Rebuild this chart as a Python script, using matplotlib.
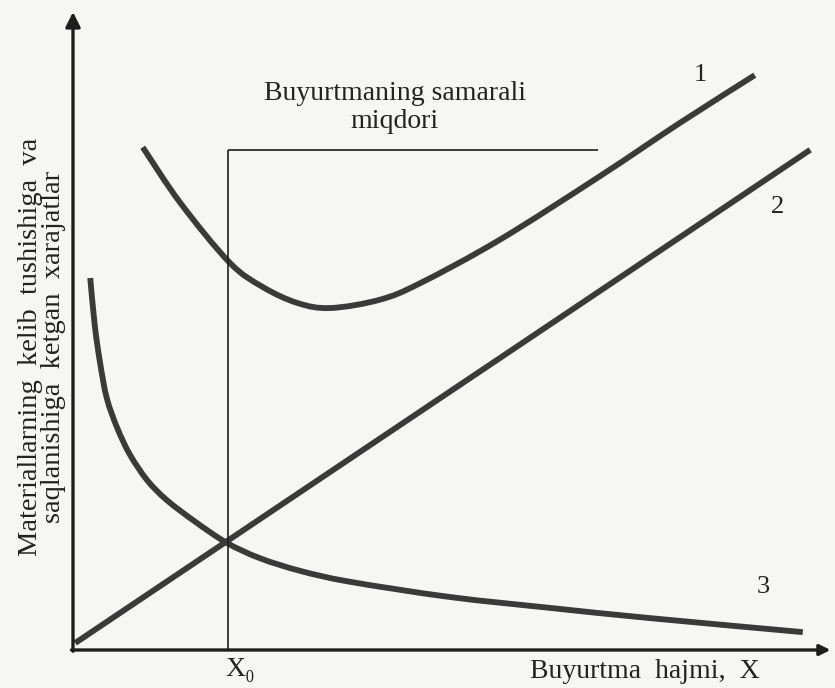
import matplotlib
matplotlib.use("Agg")
import matplotlib.pyplot as plt
from matplotlib.path import Path
from matplotlib.patches import PathPatch
import numpy as np

# ==========================================
# DATA (o'qilgan qiymatlar, shartli birliklar)
# ==========================================

# 1 - umumiy xarajatlar (U-shaklidagi egri)
total_x = [9.3, 14.3, 20.9, 25.3, 29.9, 34.3, 40.9, 46.3, 56.9, 70.3, 80.9, 90.9]
total_y = [78.8, 70.1, 60.7, 56.9, 54.4, 53.6, 54.9, 57.5, 64.3, 74.3, 82.6, 90.1]

# 2 - saqlash xarajatlari (to'g'ri chiziq)
hold_x = [0.3, 98.3]
hold_y = [1.1, 78.4]

# 3 - kelib tushish xarajatlari (giperbola)
order_x = [2.3, 2.9, 3.6, 4.5, 5.9, 7.6, 9.9, 12.5, 16.3, 20.5, 24.9, 30.3, 36.9, 50.3, 63.6, 76.9, 97.3]
order_y = [58.3, 50.9, 45.1, 39.5, 34.8, 30.6, 26.6, 23.5, 20.1, 16.8, 14.4, 12.4, 10.7, 8.3, 6.6, 5.0, 2.8]

# samarali miqdor
x0 = 20.7
box_top = 78.4
box_right = 70.0

curve_labels = ["1", "2", "3"]
label_pos = [(83.6, 90.1), (94.0, 69.4), (92.0, 9.9)]

# ==========================================
# PLOT
# ==========================================

SERIF = ["Liberation Serif", "DejaVu Serif"]
BG = "#f6f6f4"
INK = "#3a3a3a"
AXIS = "#1e1e1e"
TXT = "#222222"


def smooth_path(xs, ys):
    # Catmull-Rom orqali silliq chiziq (faqat chizish uchun)
    p = np.column_stack([xs, ys]).astype(float)
    if len(p) < 3:
        return Path(p)
    verts = [p[0]]
    codes = [Path.MOVETO]
    for i in range(len(p) - 1):
        p0 = p[i - 1] if i > 0 else p[i]
        p1, p2 = p[i], p[i + 1]
        p3 = p[i + 2] if i + 2 < len(p) else p[i + 1]
        c1 = p1 + (p2 - p0) / 6.0
        c2 = p2 - (p3 - p1) / 6.0
        verts += [c1, c2, p2]
        codes += [Path.CURVE4] * 3
    return Path(verts, codes)


fig = plt.figure(figsize=(8.35, 6.88), dpi=100, facecolor=BG)
ax = fig.add_axes([73 / 835, 38 / 688, 750 / 835, 638 / 688])
ax.set_facecolor(BG)
ax.set_xlim(0, 100)
ax.set_ylim(0, 100)
for s in ax.spines.values():
    s.set_visible(False)
ax.set_xticks([])
ax.set_yticks([])

# o'qlar
ax.annotate("", xy=(0, 100), xytext=(0, -0.2),
            arrowprops=dict(arrowstyle="-|>", lw=2.4, color=AXIS, mutation_scale=22,
                            shrinkA=0, shrinkB=0), annotation_clip=False)
ax.annotate("", xy=(101, 0), xytext=(-0.2, 0),
            arrowprops=dict(arrowstyle="-|>", lw=2.4, color=AXIS, mutation_scale=16,
                            shrinkA=0, shrinkB=0), annotation_clip=False)

# samarali miqdor chiziqlari
ax.plot([x0, x0], [0, box_top], color=AXIS, lw=1.2, solid_capstyle="butt")
ax.plot([x0, box_right], [box_top, box_top], color=AXIS, lw=1.2, solid_capstyle="butt")

# egri chiziqlar
for xs, ys in [(total_x, total_y), (hold_x, hold_y), (order_x, order_y)]:
    ax.add_patch(PathPatch(smooth_path(xs, ys), fill=False, edgecolor=INK, lw=4.2,
                           joinstyle="round", capstyle="butt"))

for lab, (lx, ly) in zip(curve_labels, label_pos):
    ax.text(lx, ly, lab, fontsize=19, family=SERIF, color=TXT,
            ha="center", va="center")

ax.text(42.9, 87.3, "Buyurtmaning samarali", fontsize=20, family=SERIF,
        color=TXT, ha="center", va="center")
ax.text(42.9, 82.8, "miqdori", fontsize=20, family=SERIF,
        color=TXT, ha="center", va="center")

ax.text(22.3, -3.1, "X₀", fontsize=20, family=SERIF, color=TXT,
        ha="center", va="center", clip_on=False)
ax.text(76.3, -3.4, "Buyurtma  hajmi,  X", fontsize=20, family=SERIF,
        color=TXT, ha="center", va="center", clip_on=False)

ax.text(-4.1, 47.5, "Materiallarning  kelib  tushishiga  va\nsaqlanishiga  ketgan  xarajatlar",
        fontsize=20.5, family=SERIF, color=TXT, rotation=90,
        ha="center", va="center", multialignment="center", linespacing=0.92,
        clip_on=False)

fig.savefig("out.png", dpi=100, facecolor=BG)
plt.close(fig)
